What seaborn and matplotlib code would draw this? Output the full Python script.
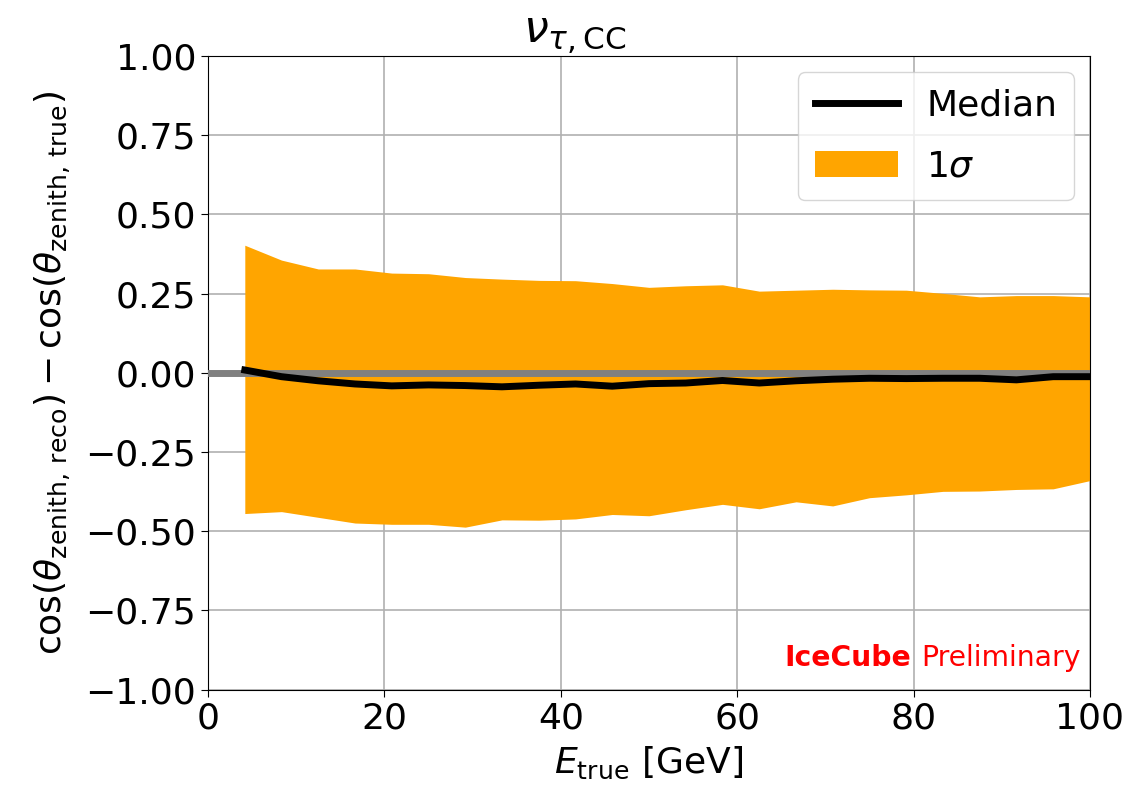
import numpy as np
import pandas as pd
import matplotlib
matplotlib.use("Agg")
import matplotlib.pyplot as plt
import seaborn as sns

# Data
e_true = [4.17, 8.33, 12.5, 16.67, 20.83, 25.0, 29.17, 33.33, 37.5, 41.67, 45.83, 50.0,
          54.17, 58.33, 62.5, 66.67, 70.83, 75.0, 79.17, 83.33, 87.5, 91.67, 95.83, 100.0]
median = [0.009, -0.012, -0.025, -0.035, -0.041, -0.038, -0.040, -0.044, -0.039, -0.035,
          -0.042, -0.034, -0.032, -0.024, -0.032, -0.025, -0.020, -0.017, -0.018, -0.017,
          -0.017, -0.022, -0.012, -0.012]
upper = [0.403, 0.356, 0.328, 0.328, 0.315, 0.313, 0.301, 0.296, 0.292, 0.291, 0.282, 0.270,
         0.275, 0.278, 0.258, 0.261, 0.264, 0.262, 0.261, 0.251, 0.240, 0.244, 0.244, 0.240]
lower = [-0.444, -0.438, -0.456, -0.474, -0.478, -0.478, -0.487, -0.464, -0.465, -0.461,
         -0.447, -0.451, -0.432, -0.415, -0.429, -0.407, -0.420, -0.394, -0.385, -0.374,
         -0.373, -0.368, -0.366, -0.340]
x_ticks = [0, 20, 40, 60, 80, 100]
y_ticks = [-1.0, -0.75, -0.5, -0.25, 0.0, 0.25, 0.5, 0.75, 1.0]

df = pd.DataFrame({"E": e_true, "median": median, "upper": upper, "lower": lower})

plt.rcParams["font.family"] = ["DejaVu Sans"]
plt.rcParams["mathtext.fontset"] = "dejavusans"
FS = 26

fig = plt.figure(figsize=(11.43, 7.9), dpi=100)
ax = fig.add_axes([0.182, 0.127, 0.7716, 0.802])

ax.fill_between(df["E"], df["lower"], df["upper"], color="orange", lw=0,
                label=r"$1\sigma$", zorder=2)
ax.axhline(0, color="gray", lw=5, zorder=3)
sns.lineplot(data=df, x="E", y="median", ax=ax, color="black", lw=5,
             label="Median", zorder=4)

ax.set_xlim(0, 100)
ax.set_ylim(-1, 1)
ax.set_xticks(x_ticks)
ax.set_yticks(y_ticks)
ax.yaxis.set_major_formatter(matplotlib.ticker.FuncFormatter(
    lambda v, p: f"{v:.2f}".replace("-", "\u2212")))
ax.tick_params(labelsize=FS, length=5)
ax.grid(True, color="#b0b0b0", lw=1.2, zorder=0)
ax.set_axisbelow(True)

ax.set_xlabel(r"$E_{\mathrm{true}}$ [GeV]", fontsize=FS, labelpad=7)
ax.set_ylabel(r"$\cos(\theta_{\mathrm{zenith,\,reco}}) - \cos(\theta_{\mathrm{zenith,\,true}})$",
              fontsize=FS, labelpad=9)
ax.set_title(r"$\nu_{\tau,\mathrm{CC}}$", fontsize=32, pad=3, x=0.416)

handles, labels = ax.get_legend_handles_labels()
order = [labels.index("Median"), labels.index(r"$1\sigma$")]
ax.legend([handles[i] for i in order], [labels[i] for i in order],
          loc="upper right", fontsize=FS, framealpha=0.8, borderaxespad=0.45,
          handlelength=2.3, labelspacing=0.75, borderpad=0.45)

t2 = ax.text(0.99, 0.028, "Preliminary", transform=ax.transAxes, ha="right", va="bottom",
             color="red", fontsize=20.3)
fig.canvas.draw()
bb = t2.get_window_extent()
inv = ax.transAxes.inverted()
x0 = inv.transform((bb.x0 - 11, bb.y0))[0]
ax.text(x0, 0.028, "IceCube", transform=ax.transAxes, ha="right", va="bottom",
        color="red", fontsize=20.3, fontweight="bold")

fig.savefig("out.png", dpi=100)
